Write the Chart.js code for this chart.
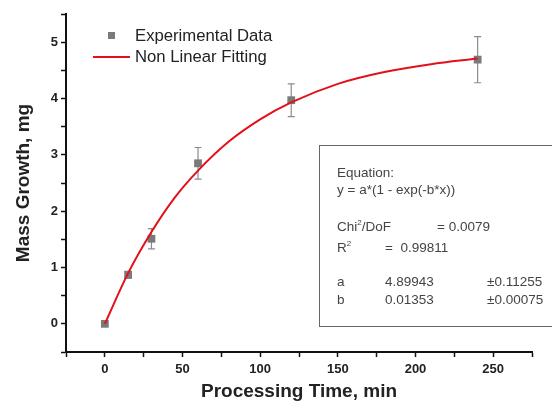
<!DOCTYPE html>
<html>
<head>
<meta charset="utf-8">
<script src="https://cdn.jsdelivr.net/npm/chart.js@4.4.1/dist/chart.umd.min.js"></script>
<style>
  body { margin: 0; background: #fff; }
  #wrap { position: relative; width: 552px; height: 403px; font-family: 'Liberation Sans', Arial, sans-serif; }
  #chart { position: absolute; left: 0; top: 0; }
  .lg { position: absolute; font-size: 16.7px; color: #222; line-height: 20px; white-space: nowrap; }
  .bx { position: absolute; font-size: 13.5px; color: #444; line-height: 16px; white-space: nowrap; }
  .bx sup { font-size: 8px; vertical-align: 6px; line-height: 0; }
</style>
</head>
<body>
<div id="wrap">
  <canvas id="chart" width="552" height="403"></canvas>

  <div style="position:absolute;left:108px;top:32px;width:7px;height:7px;background:#7a7a7a"></div>
  <div class="lg" style="left:135px;top:26px">Experimental Data</div>
  <div style="position:absolute;left:93px;top:56px;width:37px;height:2px;background:#e3101a"></div>
  <div class="lg" style="left:135px;top:47px">Non Linear Fitting</div>

  <div style="position:absolute;left:319px;top:145px;width:240px;height:182px;border:1.5px solid #666;box-sizing:border-box"></div>
  <div class="bx" style="left:337px;top:165px">Equation:</div>
  <div class="bx" style="left:337px;top:182px">y = a*(1 - exp(-b*x))</div>
  <div class="bx" style="left:337px;top:219px">Chi<sup>2</sup>/DoF</div>
  <div class="bx" style="left:437px;top:219px">= 0.0079</div>
  <div class="bx" style="left:337px;top:240px">R<sup>2</sup></div>
  <div class="bx" style="left:385px;top:240px">= &nbsp;0.99811</div>
  <div class="bx" style="left:337px;top:274px">a</div>
  <div class="bx" style="left:385px;top:274px">4.89943</div>
  <div class="bx" style="left:487px;top:274px">±0.11255</div>
  <div class="bx" style="left:337px;top:292px">b</div>
  <div class="bx" style="left:385px;top:292px">0.01353</div>
  <div class="bx" style="left:487px;top:292px">±0.00075</div>
</div>

<script>
const expTime = [0, 15, 30, 60, 120, 240];
const expMass = [0, 0.87, 1.51, 2.85, 3.97, 4.69];
const expErr = [0.03, 0.06, 0.18, 0.28, 0.29, 0.41];

const fitTime = [0, 15, 30, 45, 60, 80, 100, 120, 150, 180, 210, 240];
const fitMass = [0, 0.90, 1.63, 2.24, 2.72, 3.24, 3.63, 3.93, 4.26, 4.47, 4.61, 4.71];

const xTicks = [0, 50, 100, 150, 200, 250];
const yTicks = [0, 1, 2, 3, 4, 5];

const font = "'Liberation Sans', Arial, sans-serif";

// error bars behind the markers
const errorBars = {
  id: 'errorBars',
  beforeDatasetsDraw(chart) {
    const ctx = chart.ctx;
    const xs = chart.scales.x, ys = chart.scales.y;
    ctx.save();
    ctx.strokeStyle = '#8c8c8c';
    ctx.lineWidth = 1.2;
    expTime.forEach((t, i) => {
      const px = xs.getPixelForValue(t);
      const top = ys.getPixelForValue(expMass[i] + expErr[i]);
      const bot = ys.getPixelForValue(expMass[i] - expErr[i]);
      ctx.beginPath();
      ctx.moveTo(px, top); ctx.lineTo(px, bot);
      ctx.moveTo(px - 3.5, top); ctx.lineTo(px + 3.5, top);
      ctx.moveTo(px - 3.5, bot); ctx.lineTo(px + 3.5, bot);
      ctx.stroke();
    });
    ctx.restore();
  }
};

new Chart(document.getElementById('chart'), {
  type: 'scatter',
  data: {
    datasets: [
      {
        label: 'Non Linear Fitting',
        type: 'line',
        data: fitTime.map((t, i) => ({ x: t, y: fitMass[i] })),
        borderColor: '#e3101a',
        borderWidth: 2,
        pointRadius: 0,
        cubicInterpolationMode: 'monotone',
        order: 0
      },
      {
        label: 'Experimental Data',
        data: expTime.map((t, i) => ({ x: t, y: expMass[i] })),
        pointStyle: 'rect',
        pointRadius: 5.5,
        backgroundColor: '#7a7a7a',
        borderColor: '#7a7a7a',
        borderWidth: 0,
        order: 1
      }
    ]
  },
  options: {
    responsive: false,
    animation: false,
    layout: { padding: { top: 14, right: 20, bottom: 0, left: 0 } },
    plugins: { legend: { display: false }, tooltip: { enabled: false } },
    scales: {
      x: {
        type: 'linear',
        min: -25, max: 275,
        afterFit(scale) { scale.height = 51; },
        border: { display: true, color: '#111', width: 2 },
        grid: { drawOnChartArea: false, drawTicks: true, tickLength: 5, color: '#111', tickWidth: 1.5 },
        ticks: {
          stepSize: 25,
          autoSkip: false,
          maxRotation: 0,
          padding: 5,
          color: '#222',
          font: { family: font, size: 13, weight: 'bold' },
          callback: v => xTicks.includes(v) ? String(v) : ''
        },
        title: {
          display: true,
          text: 'Processing Time, min',
          color: '#222',
          padding: { top: 0, bottom: 0 },
          font: { family: font, size: 19, weight: 'bold' }
        }
      },
      y: {
        min: -0.5, max: 5.5,
        afterFit(scale) { scale.width = 66; },
        border: { display: true, color: '#111', width: 2 },
        grid: { drawOnChartArea: false, drawTicks: true, tickLength: 5, color: '#111', tickWidth: 1.5 },
        ticks: {
          stepSize: 0.5,
          autoSkip: false,
          padding: 3,
          color: '#222',
          font: { family: font, size: 13, weight: 'bold' },
          callback: v => yTicks.includes(v) ? String(v) : ''
        },
        title: {
          display: true,
          text: 'Mass Growth, mg',
          color: '#222',
          padding: { top: 12, bottom: 0 },
          font: { family: font, size: 19, weight: 'bold' }
        }
      }
    }
  },
  plugins: [errorBars]
});
</script>
</body>
</html>
